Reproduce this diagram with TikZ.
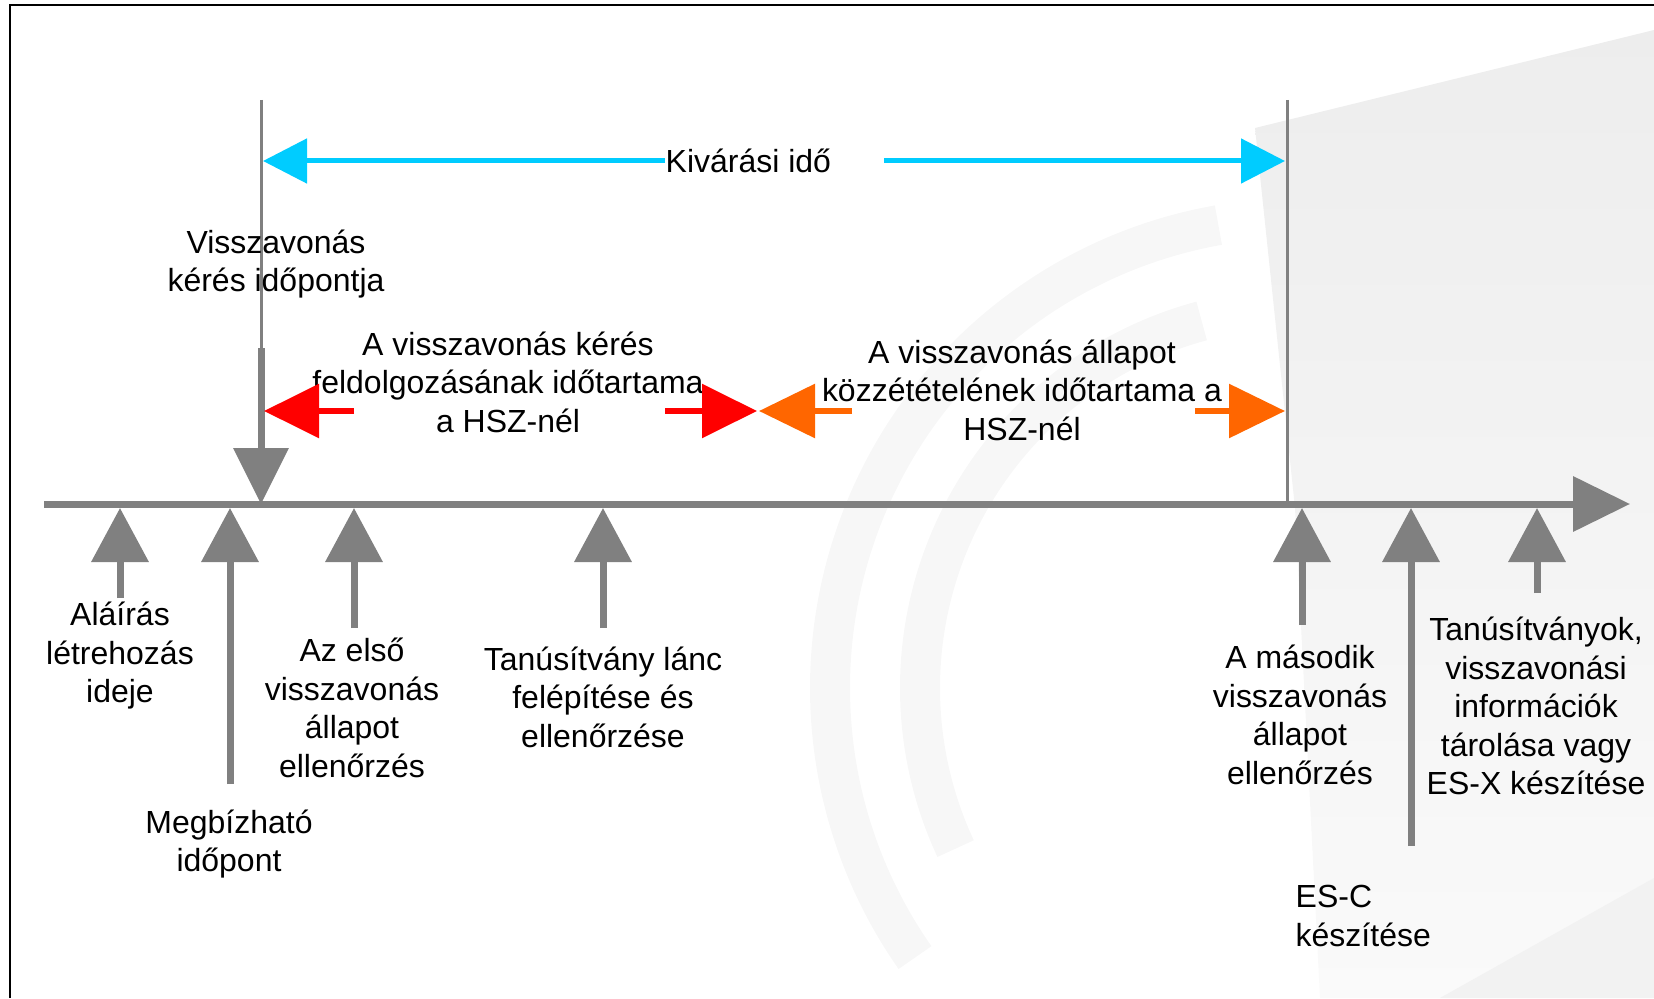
\documentclass[tikz,border=0pt]{standalone}
\usepackage{fontspec}
\setmainfont{Liberation Sans}
\usetikzlibrary{arrows.meta,positioning}
\definecolor{axisgray}{HTML}{808080}
\definecolor{waitcyan}{HTML}{00CCFF}
\definecolor{procred}{HTML}{FF0000}
\definecolor{puborange}{HTML}{FF6600}

\begin{document}
\begin{tikzpicture}[
    lbl/.style={align=center, font=\fontsize{9.1}{10.95}\selectfont, inner sep=0pt},
    tick/.style={draw=axisgray, line width=0.07cm, -{Triangle[length=0.54cm, width=0.56cm]}},
    timeaxis/.style={draw=axisgray, line width=0.07cm, -{Triangle[length=0.57cm, width=0.54cm]}},
    marker/.style={draw=axisgray, line width=0.03cm},
    waitarr/.style={draw=waitcyan, line width=0.05cm, -{Triangle[length=0.44cm, width=0.44cm]}},
    procarr/.style={draw=procred, line width=0.06cm, -{Triangle[length=0.55cm, width=0.53cm]}},
    pubarr/.style={draw=puborange, line width=0.06cm, -{Triangle[length=0.56cm, width=0.53cm]}},
    swirl/.style={draw=black!3, line width=0.4cm}
]
\useasboundingbox (0,0) rectangle (16.54,9.98);

% faint background
\shade[top color=black!7, bottom color=black!2] (12.55,8.70) -- (16.54,9.68) -- (16.54,0) -- (13.20,0) -- (12.95,4.90) -- cycle;
\draw[swirl] (13.0,3.1) ++(100:4.7) arc (100:215:4.7);
\draw[swirl] (13.0,3.1) ++(105:3.8) arc (105:205:3.8);
\fill[black!5] (14.40,0) -- (16.54,1.20) -- (16.54,0) -- cycle;

% frame
\draw[line width=0.02cm] (0.10,0) -- (0.10,9.93) -- (16.54,9.93);

% time axis
\coordinate (ax0) at (0.44,4.94);
\coordinate (ax1) at (16.30,4.94);
\draw[timeaxis] (ax0) -- (ax1);

% request time and end of waiting period
\coordinate (reqtop) at (2.61,8.98);
\coordinate (reqmid) at (2.61,6.50);
\coordinate (reqbot) at (2.61,4.94);
\coordinate (endtop) at (12.87,8.98);
\coordinate (endbot) at (12.87,4.94);
\draw[marker] (reqtop) -- (reqmid);
\draw[marker] (endtop) -- (endbot);
\draw[draw=axisgray, line width=0.07cm, -{Triangle[length=0.56cm, width=0.54cm]}] (reqmid) -- (reqbot);

\node[lbl] (req) at (2.76,7.34) {Visszavonás\\kérés időpontja};

% waiting period
\node[lbl, anchor=west] (wait) at (6.65,8.37) {Kivárási idő};
\coordinate (waitl) at (2.63,8.37);
\coordinate (waitr0) at (8.84,8.37);
\coordinate (waitr) at (12.85,8.37);
\draw[waitarr] (wait.west) -- (waitl);
\draw[waitarr] (waitr0) -- (waitr);

% processing at the CSP
\node[lbl] (proc) at (5.08,6.16) {A visszavonás kérés\\feldolgozásának időtartama\\a HSZ-nél};
\coordinate (procl0) at (3.54,5.87);
\coordinate (procl) at (2.64,5.87);
\coordinate (procr0) at (6.65,5.87);
\coordinate (procr) at (7.57,5.87);
\draw[procarr] (procl0) -- (procl);
\draw[procarr] (procr0) -- (procr);

% publication at the CSP
\node[lbl] (pub) at (10.22,6.08) {A visszavonás állapot\\közzétételének időtartama a\\HSZ-nél};
\coordinate (publ0) at (8.52,5.87);
\coordinate (publ) at (7.59,5.87);
\coordinate (pubr0) at (11.95,5.87);
\coordinate (pubr) at (12.85,5.87);
\draw[pubarr] (publ0) -- (publ);
\draw[pubarr] (pubr0) -- (pubr);

% events below the axis
\coordinate (sig0) at (1.20,4.00);   \coordinate (sig) at (1.20,4.90);
\coordinate (trust0) at (2.30,2.14); \coordinate (trust) at (2.30,4.90);
\coordinate (chk0) at (3.54,3.70);   \coordinate (chk) at (3.54,4.90);
\coordinate (chain0) at (6.03,3.70); \coordinate (chain) at (6.03,4.90);
\coordinate (chkb0) at (13.02,3.73); \coordinate (chkb) at (13.02,4.90);
\coordinate (esc0) at (14.11,1.52);  \coordinate (esc) at (14.11,4.90);
\coordinate (esx0) at (15.37,4.05);  \coordinate (esx) at (15.37,4.90);
\draw[tick] (sig0) -- (sig);
\draw[tick] (trust0) -- (trust);
\draw[tick] (chk0) -- (chk);
\draw[tick] (chain0) -- (chain);
\draw[tick] (chkb0) -- (chkb);
\draw[tick] (esc0) -- (esc);
\draw[tick] (esx0) -- (esx);

\node[lbl] (sigl) at (1.20,3.42) {Aláírás\\létrehozás\\ideje};
\node[lbl] (trustl) at (2.29,1.54) {Megbízható\\időpont};
\node[lbl] (chkl) at (3.52,2.90) {Az első\\visszavonás\\állapot\\ellenőrzés};
\node[lbl] (chainl) at (6.03,3.01) {Tanúsítvány lánc\\felépítése és\\ellenőrzése};
\node[lbl] (chkbl) at (13.00,2.83) {A második\\visszavonás\\állapot\\ellenőrzés};
\node[lbl, align=left, anchor=west] (escl) at (12.95,0.82) {ES-C\\készítése};
\node[lbl] (esxl) at (15.36,2.92) {Tanúsítványok,\\visszavonási\\információk\\tárolása vagy\\ES-X készítése};
\end{tikzpicture}
\end{document}
